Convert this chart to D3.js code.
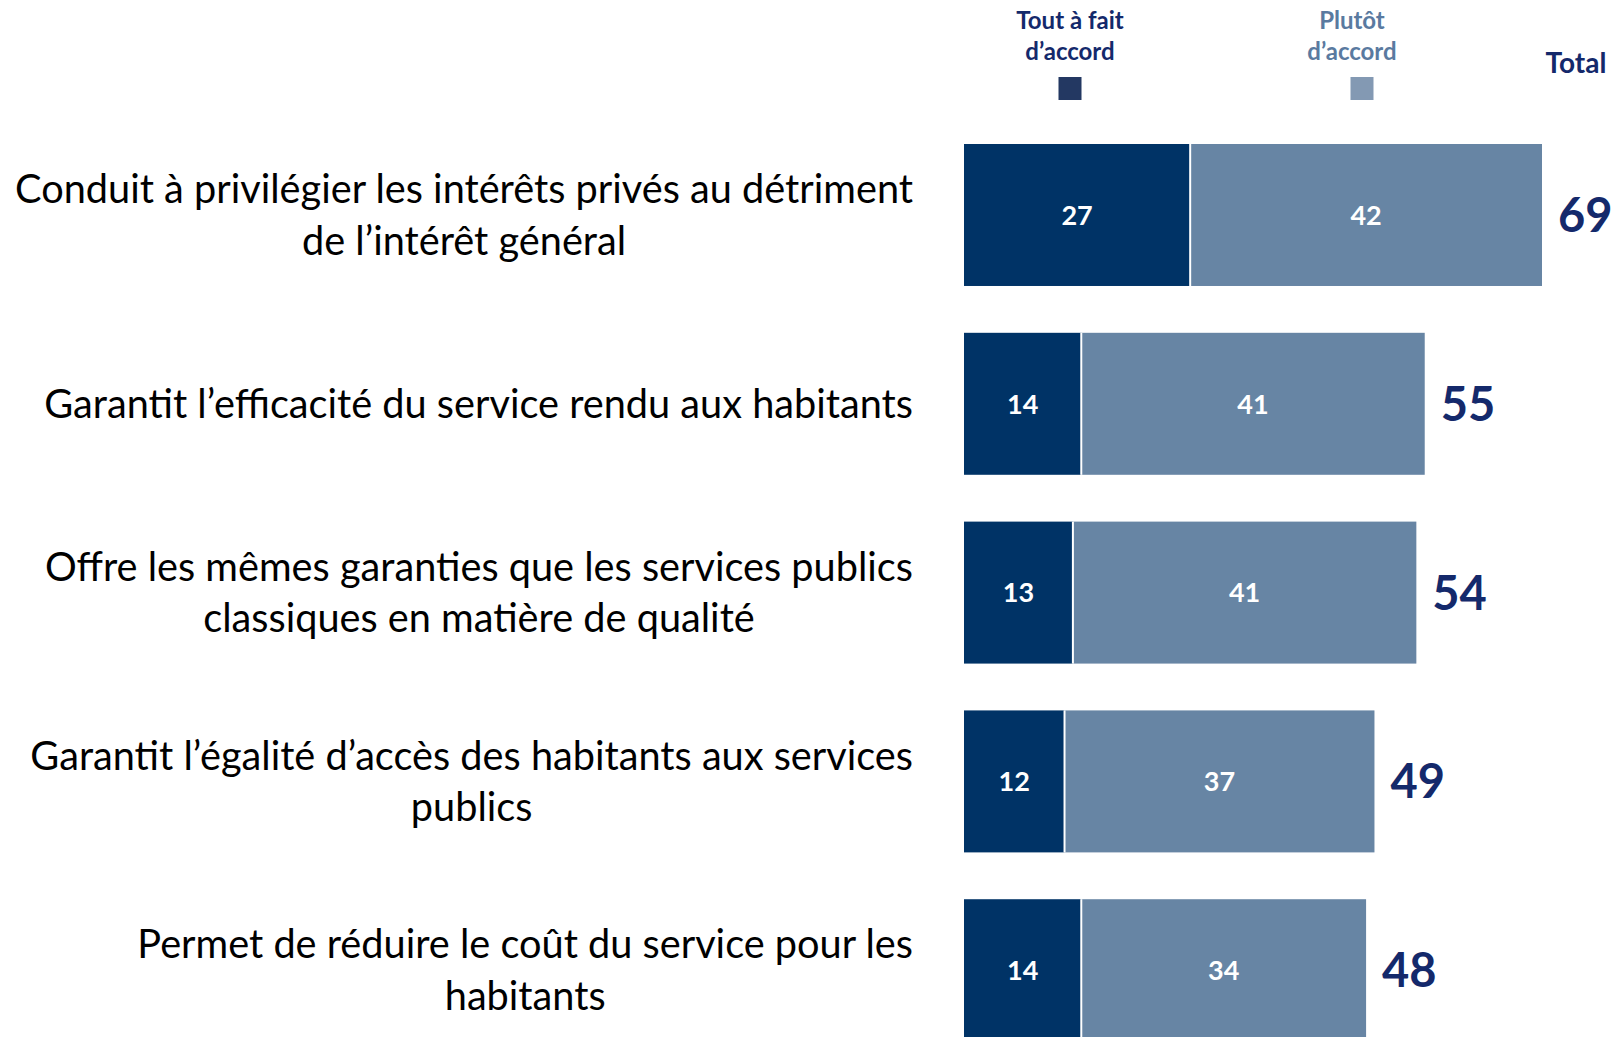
<!DOCTYPE html>
<html>
<head>
<meta charset="utf-8">
<script src="https://cdn.jsdelivr.net/npm/d3@7"></script>
<style>
  html, body { margin: 0; padding: 0; background: #fff; }
  svg { display: block; font-family: Lato, 'Open Sans', sans-serif; }
</style>
</head>
<body>
<div class="graph"></div>
<script>
// statements (one array of lines per bar)
var labels = [
  ['Conduit à privilégier les intérêts privés au détriment', 'de l’intérêt général'],
  ['Garantit l’efficacité du service rendu aux habitants'],
  ['Offre les mêmes garanties que les services publics', 'classiques en matière de qualité'],
  ['Garantit l’égalité d’accès des habitants aux services', 'publics'],
  ['Permet de réduire le coût du service pour les', 'habitants']
];
var toutAFait = [27, 14, 13, 12, 14],
    plutot = [42, 41, 41, 37, 34],
    totals = [69, 55, 54, 49, 48];
var seriesNames = [['Tout à fait', 'd’accord'], ['Plutôt', 'd’accord']],
    totalName = 'Total';

var width = 1615, height = 1037;
var darkBlue = '#003366', lightBlue = '#6785a4', navy = '#14296b';

var x = d3.scaleLinear().domain([0, 69]).range([964, 1542]),
    y = d3.scaleBand().domain(d3.range(labels.length))
          .range([144, 144 + 4 * 188.8 + 142]).paddingInner(0.248).paddingOuter(0);

var svg = d3.select('.graph').append('svg')
            .attr('width', width).attr('height', height);

var rows = svg.selectAll('.row')
              .data(labels.map(function(l, i) {
                return { lines: l, tout: toutAFait[i], plutot: plutot[i], total: totals[i], i: i };
              }))
              .enter().append('g')
              .attr('class', 'row')
              .attr('transform', function(d) { return 'translate(0,' + y(d.i) + ')'; });

var bh = y.bandwidth();

// dark segment
rows.append('rect')
    .attr('x', x(0))
    .attr('y', 0)
    .attr('width', function(d) { return x(d.tout) - x(0); })
    .attr('height', bh)
    .attr('fill', darkBlue);

// light segment
rows.append('rect')
    .attr('x', function(d) { return x(d.tout); })
    .attr('y', 0)
    .attr('width', function(d) { return x(d.tout + d.plutot) - x(d.tout); })
    .attr('height', bh)
    .attr('fill', lightBlue);

// white separator
rows.append('line')
    .attr('x1', function(d) { return x(d.tout); })
    .attr('x2', function(d) { return x(d.tout); })
    .attr('y1', 0).attr('y2', bh)
    .attr('stroke', '#fff').attr('stroke-width', 2);

// segment values
rows.append('text')
    .attr('x', function(d) { return (x(0) + x(d.tout)) / 2; })
    .attr('y', bh / 2)
    .attr('dy', '0.36em')
    .attr('text-anchor', 'middle')
    .attr('fill', '#fff')
    .attr('font-weight', 'bold')
    .attr('font-size', 27)
    .text(function(d) { return d.tout; });

rows.append('text')
    .attr('x', function(d) { return (x(d.tout) + x(d.tout + d.plutot)) / 2; })
    .attr('y', bh / 2)
    .attr('dy', '0.36em')
    .attr('text-anchor', 'middle')
    .attr('fill', '#fff')
    .attr('font-weight', 'bold')
    .attr('font-size', 27)
    .text(function(d) { return d.plutot; });

// totals
rows.append('text')
    .attr('x', function(d) { return x(d.total) + 16; })
    .attr('y', bh / 2)
    .attr('dy', '0.36em')
    .attr('fill', navy)
    .attr('font-weight', 'bold')
    .attr('font-size', 47)
    .text(function(d) { return d.total; });

// statement labels: block centred on its longest line, whose right edge sits at labelRight
var labelRight = 913, lineGap = 51.5;
rows.each(function(d) {
  var g = d3.select(this);
  var t = g.selectAll('.lbl').data(d.lines).enter().append('text')
           .attr('class', 'lbl')
           .attr('text-anchor', 'middle')
           .attr('font-size', 39.7)
           .attr('fill', '#000')
           .attr('dy', '0.35em')
           .text(function(s) { return s; });
  var maxW = 0;
  t.each(function() { maxW = Math.max(maxW, this.getComputedTextLength()); });
  var cx = labelRight - maxW / 2,
      n = d.lines.length;
  t.attr('x', cx)
   .attr('y', function(s, j) { return bh / 2 + (j - (n - 1) / 2) * lineGap; });
});

// legend
var legend = svg.append('g').attr('class', 'legend');
var legendItems = [
  { name: seriesNames[0], cx: 1070, sqx: 1070, text: navy, fill: '#233862' },
  { name: seriesNames[1], cx: 1352, sqx: 1362, text: '#5a7aa0', fill: '#8399b3' }
];
legendItems.forEach(function(item) {
  item.name.forEach(function(s, j) {
    legend.append('text')
          .attr('x', item.cx)
          .attr('y', 29 + j * 31)
          .attr('text-anchor', 'middle')
          .attr('font-weight', 'bold')
          .attr('font-size', 24)
          .attr('fill', item.text)
          .text(s);
  });
  legend.append('rect')
        .attr('x', item.sqx - 11.5)
        .attr('y', 77)
        .attr('width', 23)
        .attr('height', 23)
        .attr('fill', item.fill);
});
legend.append('text')
      .attr('x', 1576)
      .attr('y', 73)
      .attr('text-anchor', 'middle')
      .attr('font-weight', 'bold')
      .attr('font-size', 28)
      .attr('fill', navy)
      .text(totalName);
</script>
</body>
</html>
